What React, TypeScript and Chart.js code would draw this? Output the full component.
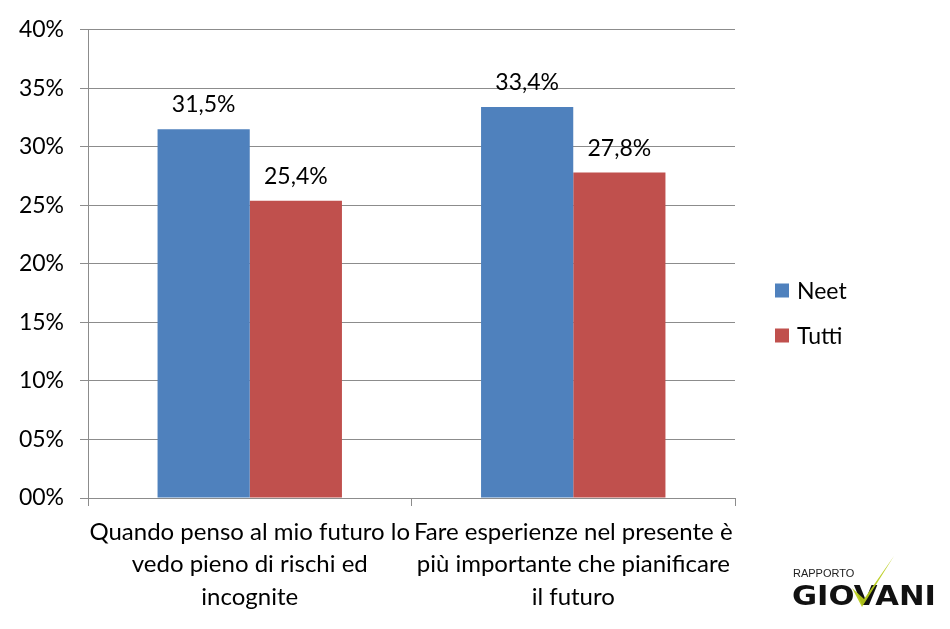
import React, { useEffect, useRef } from "react";
import { Chart, registerables } from "chart.js";

Chart.register(...registerables);

const categories: string[][] = [
  ["Quando penso al mio futuro lo", "vedo pieno di rischi ed", "incognite"],
  ["Fare esperienze nel presente è", "più importante che pianificare", "il futuro"],
];
const neetValues = [31.5, 33.4];
const tuttiValues = [25.4, 27.8];
const seriesNames = ["Neet", "Tutti"];
const seriesColors = ["#4F81BD", "#C0504D"];
const yMin = 0;
const yMax = 40;
const yStep = 5;

const FONT = "Lato, 'Open Sans', sans-serif";
const GRID = "#8c8c8c";

const fmtPct = (v: number) => v.toFixed(1).replace(".", ",") + "%";

const dataLabelPlugin = {
  id: "dataLabels",
  afterDatasetsDraw(chart: any) {
    const ctx = chart.ctx;
    ctx.save();
    ctx.font = `23px ${FONT}`;
    ctx.fillStyle = "#000";
    ctx.textAlign = "center";
    ctx.textBaseline = "bottom";
    chart.data.datasets.forEach((ds: any, i: number) => {
      const meta = chart.getDatasetMeta(i);
      meta.data.forEach((bar: any, j: number) => {
        ctx.fillText(fmtPct(ds.data[j]), bar.x, bar.y - 13);
      });
    });
    ctx.restore();
  },
};

const legendPlugin = {
  id: "sideLegend",
  afterDraw(chart: any) {
    const ctx = chart.ctx;
    ctx.save();
    ctx.font = `23px ${FONT}`;
    ctx.textBaseline = "middle";
    ctx.textAlign = "left";
    const x0 = chart.chartArea.right + 40;
    const yc = 313;
    const gap = 45;
    chart.data.datasets.forEach((ds: any, i: number) => {
      const y = yc + (i - (chart.data.datasets.length - 1) / 2) * gap;
      ctx.fillStyle = ds.backgroundColor;
      ctx.fillRect(x0, y - 7, 14, 14);
      ctx.fillStyle = "#000";
      ctx.fillText(ds.label, x0 + 22, y + 1);
    });
    ctx.restore();
  },
};

export default function App() {
  const ref = useRef<HTMLCanvasElement | null>(null);
  useEffect(() => {
    if (!ref.current) return;
    const chart = new Chart(ref.current, {
      type: "bar",
      data: {
        labels: categories,
        datasets: [
          { label: seriesNames[0], data: neetValues, backgroundColor: seriesColors[0] },
          { label: seriesNames[1], data: tuttiValues, backgroundColor: seriesColors[1] },
        ],
      },
      options: {
        animation: false,
        responsive: false,
        maintainAspectRatio: false,
        layout: { padding: { top: 29, right: 215, left: 0, bottom: 0 } },
        datasets: { bar: { categoryPercentage: 0.57, barPercentage: 1 } },
        plugins: {
          legend: { display: false },
          tooltip: { enabled: false },
        },
        scales: {
          x: {
            grid: {
              display: true,
              drawOnChartArea: false,
              drawTicks: true,
              tickLength: 8,
              color: GRID,
              offset: true,
            },
            border: { display: true, color: GRID },
            ticks: {
              font: { family: FONT, size: 24, lineHeight: 1.35 },
              color: "#000",
              maxRotation: 0,
              autoSkip: false,
              padding: 10,
            },
            afterFit: (s: any) => {
              s.height = 131;
            },
          },
          y: {
            min: yMin,
            max: yMax,
            ticks: {
              stepSize: yStep,
              font: { family: FONT, size: 23 },
              color: "#000",
              padding: 16,
              callback: (v: any) => String(v).padStart(2, "0") + "%",
            },
            grid: { color: GRID, tickLength: 8 },
            border: { display: true, color: GRID },
            afterFit: (s: any) => {
              s.width = 88;
            },
          },
        },
      },
      plugins: [dataLabelPlugin, legendPlugin],
    });
    return () => chart.destroy();
  }, []);

  return (
    <div style={{ position: "fixed", left: 0, top: 0, width: 950, height: 629, background: "#fff" }}>
      <canvas ref={ref} width={950} height={629} style={{ display: "block" }} />
      <svg
        width={150}
        height={60}
        viewBox="0 0 150 60"
        style={{ position: "absolute", left: 790, top: 552 }}
      >
        <text x={3} y={25} fontFamily="'Liberation Sans', Arial, sans-serif" fontSize={11} fill="#222">
          RAPPORTO
        </text>
        <text
          x={2}
          y={53}
          fontFamily="'DejaVu Sans', sans-serif"
          fontWeight="bold"
          fontSize={27}
          fill="#111"
          textLength={144}
          lengthAdjust="spacingAndGlyphs"
        >
          GIOVANI
        </text>
        <path d="M62 36 L72 55 L104 4 L74 47 Z" fill="#b8cc1a" opacity={0.92} />
      </svg>
    </div>
  );
}
